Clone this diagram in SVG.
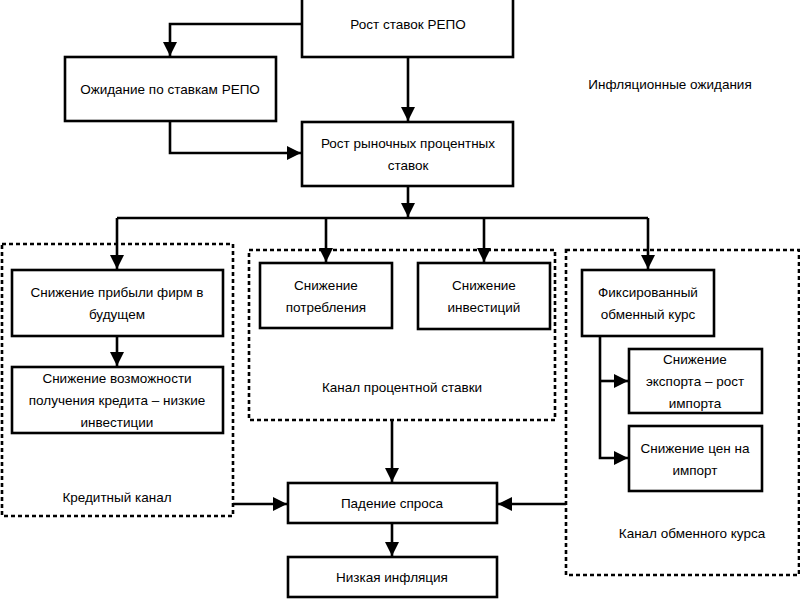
<svg xmlns="http://www.w3.org/2000/svg" width="800" height="600" viewBox="0 0 800 600">
<defs>
<marker id="ah" markerUnits="userSpaceOnUse" markerWidth="16" markerHeight="14" refX="14" refY="7" orient="auto">
<path d="M0,0 L14,7 L0,14 Z" fill="#000"/>
</marker>
<style>
.box{fill:#fff;stroke:#000;stroke-width:2.6}
.grp{fill:none;stroke:#000;stroke-width:2.6;stroke-dasharray:4,3}
.c{fill:none;stroke:#000;stroke-width:2.6}
text{font-family:"Liberation Sans",Arial,sans-serif;font-size:13.5px;fill:#000;text-anchor:middle}
</style>
</defs>
<rect width="800" height="600" fill="#fff"/>
<g id="groups">
<rect class="grp" x="2" y="244" width="231" height="272"/>
<rect class="grp" x="249" y="250" width="306" height="170"/>
<rect class="grp" x="566" y="250" width="233" height="325"/>
</g>
<g id="connectors">
<path class="c" d="M302,24 H170 V56" marker-end="url(#ah)"/>
<path class="c" d="M408,57 V121" marker-end="url(#ah)"/>
<path class="c" d="M170,121 V153 H301" marker-end="url(#ah)"/>
<path class="c" d="M408,186 V217" marker-end="url(#ah)"/>
<path class="c" d="M117,218 H648"/>
<path class="c" d="M117,218 V269" marker-end="url(#ah)"/>
<path class="c" d="M326,218 V262" marker-end="url(#ah)"/>
<path class="c" d="M484,218 V262" marker-end="url(#ah)"/>
<path class="c" d="M648,218 V269" marker-end="url(#ah)"/>
<path class="c" d="M117,336 V366" marker-end="url(#ah)"/>
<path class="c" d="M600,336 V458 H628" marker-end="url(#ah)"/>
<path class="c" d="M600,381 H628" marker-end="url(#ah)"/>
<path class="c" d="M392,420 V482" marker-end="url(#ah)"/>
<path class="c" d="M233,504 H287" marker-end="url(#ah)"/>
<path class="c" d="M566,504 H498" marker-end="url(#ah)"/>
<path class="c" d="M392,523 V556" marker-end="url(#ah)"/>
</g>
<g id="n1"><rect class="box" x="302" y="-5" width="211" height="62"/><text x="408" y="29">Рост ставок РЕПО</text></g>
<g id="n2"><rect class="box" x="65" y="57" width="211" height="64"/><text x="170" y="94">Ожидание по ставкам РЕПО</text></g>
<g id="n3"><rect class="box" x="302" y="122" width="211" height="64"/><text x="408" y="148">Рост рыночных процентных</text><text x="408" y="170">ставок</text></g>
<g id="n4"><text x="670" y="89">Инфляционные ожидания</text></g>
<g id="n5"><rect class="box" x="12" y="270" width="211" height="66"/><text x="117" y="297">Снижение прибыли фирм в</text><text x="117" y="319">будущем</text></g>
<g id="n6"><rect class="box" x="12" y="367" width="211" height="66"/><text x="117" y="383">Снижение возможности</text><text x="117" y="405">получения кредита – низкие</text><text x="117" y="427">инвестиции</text></g>
<g id="n7"><text x="117" y="502">Кредитный канал</text></g>
<g id="n8"><rect class="box" x="260" y="263" width="132" height="65"/><text x="326" y="290">Снижение</text><text x="326" y="312">потребления</text></g>
<g id="n9"><rect class="box" x="418" y="263" width="132" height="66"/><text x="484" y="290">Снижение</text><text x="484" y="312">инвестиций</text></g>
<g id="n10"><text x="402" y="392">Канал процентной ставки</text></g>
<g id="n11"><rect class="box" x="582" y="270" width="132" height="66"/><text x="648" y="297">Фиксированный</text><text x="648" y="319">обменный курс</text></g>
<g id="n12"><rect class="box" x="629" y="349" width="133" height="64"/><text x="695" y="364">Снижение</text><text x="695" y="386">экспорта – рост</text><text x="695" y="408">импорта</text></g>
<g id="n13"><rect class="box" x="629" y="426" width="133" height="65"/><text x="695" y="453">Снижение цен на</text><text x="695" y="475">импорт</text></g>
<g id="n14"><text x="692" y="538">Канал обменного курса</text></g>
<g id="n15"><rect class="box" x="288" y="483" width="209" height="40"/><text x="392" y="508">Падение спроса</text></g>
<g id="n16"><rect class="box" x="288" y="557" width="209" height="40"/><text x="392" y="582">Низкая инфляция</text></g>
</svg>
